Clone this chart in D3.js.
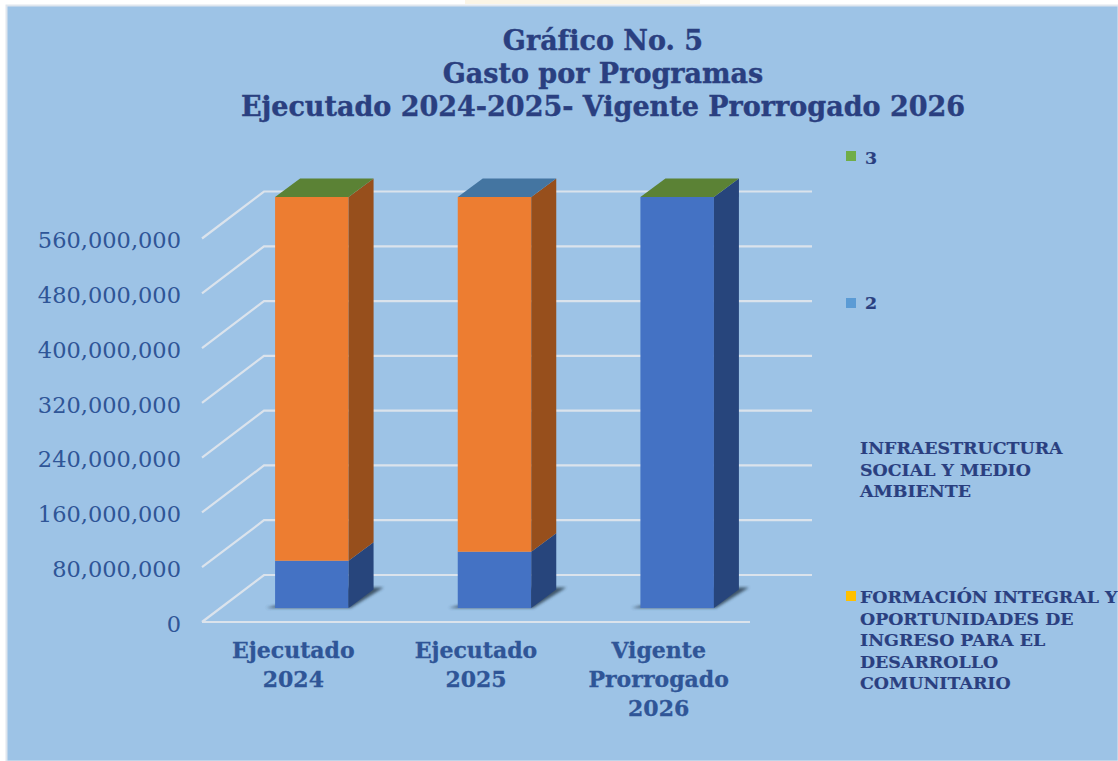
<!DOCTYPE html>
<html lang="es">
<head>
<meta charset="UTF-8">
<title>Gráfico No. 5</title>
<script src="https://d3js.org/d3.v7.min.js"></script>
<style>
  html, body { margin: 0; padding: 0; background: #fff; }
  svg { display: block; }
  text { font-family: "DejaVu Serif", serif; font-weight: bold; fill: #2a3f80; }
  .axis path, .axis line { display: none; }
  .axis text { font-family: "DejaVu Serif", serif; font-weight: normal; font-size: 22.5px; fill: #2f5597; }
  .cat { font-size: 22px; fill: #2f5597; stroke: #2f5597; stroke-width: 0.3px; }
  .title { font-size: 27px; stroke: #2a3f80; stroke-width: 0.4px; }
  .legend { font-size: 17.4px; stroke: #2a3f80; stroke-width: 0.2px; }
</style>
</head>
<body>
<svg id="chart" width="1118" height="761"></svg>
<script>
// data
const categories = [["Ejecutado", "2024"], ["Ejecutado", "2025"], ["Vigente", "Prorrogado", "2026"]];
const blueValues = [69000000, 82000000, 600000000];
const orangeValues = [531000000, 518000000, 0];
const capSeries = ["3", "2", "3"];
const tickValues = [0, 80000000, 160000000, 240000000, 320000000, 400000000, 480000000, 560000000];
const titleLines = ["Gráfico No. 5", "Gasto por Programas", "Ejecutado 2024-2025- Vigente Prorrogado 2026"];
const legendLabels = [
  ["3"],
  ["2"],
  ["INFRAESTRUCTURA", "SOCIAL Y MEDIO", "AMBIENTE"],
  ["FORMACIÓN INTEGRAL Y", "OPORTUNIDADES DE", "INGRESO PARA EL", "DESARROLLO", "COMUNITARIO"]
];

// styles and layout
const capColors = { "3": "#5b8235", "2": "#4475a1" };
const legendColors = ["#70ad47", "#5b9bd5", null, "#ffc000"];
const legendTextX = [865, 865, 860, 860];
const legendTextY = [164, 309, 454, 603];
const legendMarkY = [151, 298, 0, 591];

const svg = d3.select("#chart");

// faint remains of the page watermark above the panel
svg.append("rect").attr("x", 465).attr("y", 0).attr("width", 235).attr("height", 4).attr("fill", "#fbf5e6");

// panel
svg.append("rect").attr("x", 6.5).attr("y", 5.5).attr("width", 1112).attr("height", 756)
  .attr("fill", "#9dc3e6").attr("stroke", "#dfe6ee").attr("stroke-width", 2);

const defs = svg.append("defs");
defs.append("filter").attr("id", "soft").append("feGaussianBlur").attr("stdDeviation", 1.8);

// scales, drawn on the front edge of the floor
const x = d3.scaleBand().domain(d3.range(categories.length)).range([202, 750]);
const barWidth = 73.5;
const y = d3.scaleLinear().domain([0, 560000000]).range([622, 238.5]);

// depth of the box: floor and the bar position on it
const wall = { dx: 62, dy: -47 };
const barFront = { dx: 18.5, dy: -14 };
const barDepth = { dx: 25, dy: -18.5 };

// gridlines
const grid = svg.append("g").attr("fill", "none").attr("stroke", "#dbe3ec").attr("stroke-width", 2.2);
tickValues.forEach(v => {
  const pts = [[202, y(v)], [202 + wall.dx, y(v) + wall.dy], [812, y(v) + wall.dy]];
  grid.append("path").attr("d", d3.line()(pts));
});
grid.append("path").attr("d", d3.line()([[202, y(0)], [750, y(0)]]));

function face(pts, fill, parent) {
  return parent.append("path").attr("d", d3.line()(pts) + "Z").attr("fill", fill);
}

// bars
const bars = svg.append("g");
categories.forEach((c, i) => {
  const x0 = x(i) + x.bandwidth() / 2 - barWidth / 2 + barFront.dx;
  const x1 = x0 + barWidth;
  const yAt = v => y(v) + barFront.dy;

  // shadow at the foot of the bar
  face([[x0 - 9, yAt(0)], [x1 + 2, yAt(0)], [x1 + barDepth.dx + 10, yAt(0) + barDepth.dy - 2], [x1, yAt(0) + barDepth.dy - 2]],
    "#2f4254", bars).attr("opacity", 0.85).attr("filter", "url(#soft)");

  const stack = [
    { from: 0, to: blueValues[i], front: "#4472c4", side: "#27457c" },
    { from: blueValues[i], to: blueValues[i] + orangeValues[i], front: "#ed7d31", side: "#974f1c" }
  ];
  stack.filter(s => s.to > s.from).forEach(s => {
    face([[x0, yAt(s.from)], [x1, yAt(s.from)], [x1, yAt(s.to)], [x0, yAt(s.to)]], s.front, bars);
    face([[x1, yAt(s.from)], [x1 + barDepth.dx, yAt(s.from) + barDepth.dy], [x1 + barDepth.dx, yAt(s.to) + barDepth.dy], [x1, yAt(s.to)]], s.side, bars);
  });

  const top = yAt(blueValues[i] + orangeValues[i]);
  face([[x0, top], [x1, top], [x1 + barDepth.dx, top + barDepth.dy], [x0 + barDepth.dx, top + barDepth.dy]], capColors[capSeries[i]], bars);
});

// value axis
svg.append("g").attr("class", "axis").attr("transform", "translate(181,2)")
  .call(d3.axisLeft(y).tickValues(tickValues).tickSize(0).tickPadding(0).tickFormat(d3.format(",")));

// category labels
categories.forEach((lines, i) => {
  const t = svg.append("text").attr("class", "cat").attr("text-anchor", "middle");
  lines.forEach((l, k) => t.append("tspan").attr("x", x(i) + x.bandwidth() / 2).attr("y", 658 + k * 29).text(l));
});

// title
titleLines.forEach((l, k) => {
  svg.append("text").attr("class", "title").attr("x", 603).attr("y", 50 + k * 33).attr("text-anchor", "middle").text(l);
});

// legend
legendLabels.forEach((lines, i) => {
  if (legendColors[i]) {
    svg.append("rect").attr("x", 846).attr("y", legendMarkY[i]).attr("width", 10).attr("height", 10).attr("fill", legendColors[i]);
  }
  lines.forEach((l, k) => {
    svg.append("text").attr("class", "legend").attr("x", legendTextX[i]).attr("y", legendTextY[i] + k * 21.5).text(l);
  });
});
</script>
</body>
</html>
